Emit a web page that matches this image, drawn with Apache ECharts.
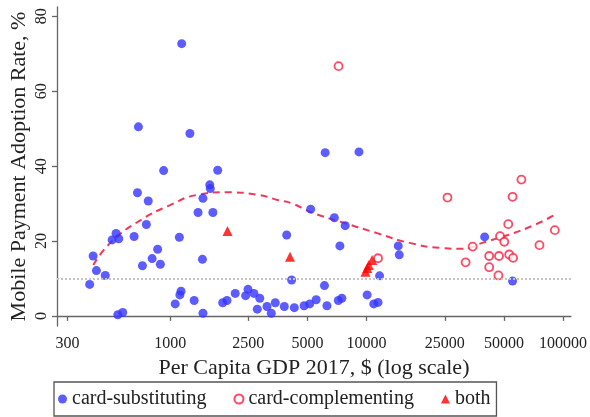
<!DOCTYPE html>
<html>
<head>
<meta charset="utf-8">
<script src="https://cdn.jsdelivr.net/npm/echarts@6/dist/echarts.min.js"></script>
<style>
  html, body { margin: 0; padding: 0; background: #fff; }
  #chart { width: 590px; height: 417px; }
</style>
</head>
<body>
<div id="chart"></div>
<script>
// per capita GDP ($) and mobile payment adoption rate (%)
var subsGdp = [389, 405, 421, 467, 506, 530, 547, 541, 573, 655, 681, 689, 722, 756, 773, 809, 863, 891, 926,
  1060, 1113, 1135, 1120, 1144, 1260, 1324, 1386, 1459, 1468, 1468, 1600, 1590, 1649, 1745, 1850, 1945,
  2143, 2421, 2489, 2668, 2775, 2858, 3110, 3271, 3427, 3810, 3917, 4150, 4285, 4806, 5131, 5534, 5190,
  6100, 6150, 6281, 6850, 7310, 7780, 9140, 7178, 7480, 10060, 10870, 11430, 11640, 14490, 14660, 39900, 55340]
var subsRate = [8.4, 16.0, 12.1, 10.8, 20.3, 22.0, 20.6, 0.3, 0.9, 21.2, 32.9, 50.5, 13.4, 24.4, 30.7, 15.3, 17.8, 13.8, 38.8,
  3.2, 21.0, 6.6, 5.6, 72.7, 48.7, 4.1, 27.6, 15.1, 31.4, 0.7, 34.0, 35.0, 27.6, 38.9, 3.5, 4.1,
  6.0, 5.4, 7.1, 6.0, 1.8, 4.7, 2.5, 0.7, 3.5, 2.5, 21.6, 9.6, 2.2, 2.7, 3.2, 4.3, 28.5,
  8.1, 43.6, 2.7, 26.2, 18.7, 24.1, 43.8, 4.1, 4.7, 5.6, 3.2, 3.6, 10.7, 18.7, 16.3, 21.1, 9.3]

var compGdp = [7194, 11430, 25800, 61380, 55340, 52610, 90800, 75860, 47760, 50220, 34660, 31910,
  42080, 47200, 53200, 55700, 42080, 46880]
var compRate = [66.7, 15.4, 31.6, 36.4, 31.8, 24.5, 22.9, 18.9, 21.3, 19.8, 18.5, 14.3,
  16.0, 16.0, 16.4, 15.5, 13.0, 10.8]

var bothGdp = [1958, 4073, 9860, 10080, 10260, 10670]
var bothRate = [22.7, 15.8, 11.8, 12.8, 13.6, 14.9]

// fitted curve
var fitGdp = [406, 500, 708, 1000, 1365, 1931, 2825, 3556, 4140, 5212, 7709, 11300, 16520, 24430, 30820, 38800, 52360, 71610, 90130]
var fitRate = [13.6, 19.7, 25.6, 29.6, 32.3, 33.0, 32.3, 30.9, 30.1, 27.7, 24.8, 22.1, 19.5, 18.1, 17.9, 19.5, 21.6, 24.3, 26.9]

var xTicks = [300, 1000, 2500, 5000, 10000, 25000, 50000, 100000]
var yTicks = [0, 20, 40, 60, 80]
var threshold = 10

var FONT = 'Liberation Serif'
var BLUE = '#3535ff'
var RED = '#ff1a3c'

function toPoints(gdp, rate) {
  return gdp.map(function (g, i) { return [Math.log10(g), rate[i]] })
}

var chart = echarts.init(document.getElementById('chart'))
chart.setOption({
  animation: false,
  grid: { left: 55, right: 13, top: 7, bottom: 91 },
  xAxis: {
    type: 'value',
    min: 2.4236,
    max: 5.0401,
    name: 'Per Capita GDP 2017, $ (log scale)',
    nameLocation: 'middle',
    nameGap: 21,
    nameTextStyle: { fontFamily: FONT, fontSize: 22, color: '#222' },
    axisLine: { show: true, lineStyle: { color: '#666', width: 1.3 } },
    axisTick: { show: true, length: 5, lineStyle: { color: '#666', width: 1.3 },
      customValues: xTicks.map(function (v) { return Math.log10(v) }) },
    axisLabel: {
      fontFamily: FONT, fontSize: 16, color: '#222', margin: 10,
      customValues: xTicks.map(function (v) { return Math.log10(v) }),
      formatter: function (v) { return String(Math.round(Math.pow(10, v))) }
    },
    splitLine: { show: false }
  },
  yAxis: {
    type: 'value',
    min: -2.7,
    max: 82.5,
    name: 'Mobile Payment Adoption Rate, %',
    nameLocation: 'middle',
    nameGap: 27,
    nameRotate: 90,
    nameMoveOverlap: false,
    nameTextStyle: { fontFamily: FONT, fontSize: 22, color: '#222' },
    axisLine: { show: true, lineStyle: { color: '#666', width: 1.3 } },
    axisTick: { show: true, length: 5, lineStyle: { color: '#666', width: 1.3 }, customValues: yTicks },
    axisLabel: { fontFamily: FONT, fontSize: 16, color: '#222', rotate: 90, margin: 7, customValues: yTicks },
    splitLine: { show: false }
  },
  legend: {
    left: 54,
    top: 382,
    padding: [7, 6, 7, 4],
    borderColor: '#555',
    borderWidth: 1.3,
    itemGap: 27,
    itemWidth: 9,
    itemHeight: 9,
    textStyle: { fontFamily: FONT, fontSize: 20, color: '#222' },
    data: [
      { name: 'card-substituting', icon: 'circle', itemStyle: { color: BLUE } },
      { name: 'card-complementing', icon: 'circle', itemStyle: { color: '#fff', borderColor: RED, borderWidth: 2 } },
      { name: 'both', icon: 'triangle', itemStyle: { color: '#ff0000' } }
    ]
  },
  series: [
    {
      name: 'fit',
      type: 'line',
      data: toPoints(fitGdp, fitRate),
      smooth: true,
      symbol: 'none',
      lineStyle: { color: '#f2385a', width: 2, type: [7, 5] },
      z: 1,
      markLine: {
        silent: true,
        symbol: 'none',
        label: { show: false },
        lineStyle: { color: '#c4c4c4', width: 2, type: [2, 2] },
        data: [{ yAxis: threshold }]
      }
    },
    {
      name: 'card-substituting',
      type: 'scatter',
      data: toPoints(subsGdp, subsRate),
      symbol: 'circle',
      symbolSize: 9,
      itemStyle: { color: BLUE },
      z: 3
    },
    {
      name: 'card-complementing',
      type: 'scatter',
      data: toPoints(compGdp, compRate),
      symbol: 'circle',
      symbolSize: 8,
      itemStyle: { color: '#fff', borderColor: RED, borderWidth: 1.8 },
      z: 3
    },
    {
      name: 'both',
      type: 'scatter',
      data: toPoints(bothGdp, bothRate),
      symbol: 'triangle',
      symbolSize: 10,
      itemStyle: { color: '#ff0000' },
      z: 4
    }
  ]
})
</script>
</body>
</html>
